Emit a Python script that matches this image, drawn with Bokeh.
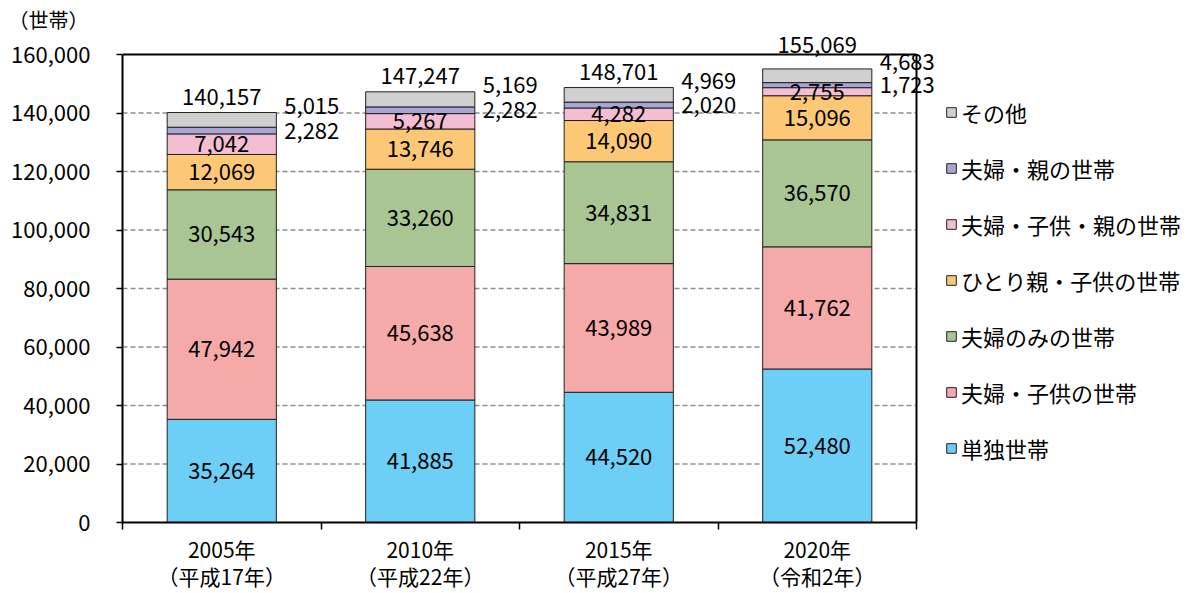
from bokeh.plotting import figure
from bokeh.models import (Range1d, FixedTicker, NumeralTickFormatter, Legend,
                          LegendItem, ColumnDataSource)
from bokeh.core.properties import value
from bokeh.embed import file_html
from bokeh.resources import INLINE

FONT = "Noto Sans CJK JP"

years = ["2005年", "2010年", "2015年", "2020年"]
eras = ["（平成17年）", "（平成22年）", "（平成27年）", "（令和2年）"]
series = ["単独世帯", "夫婦・子供の世帯", "夫婦のみの世帯", "ひとり親・子供の世帯",
          "夫婦・子供・親の世帯", "夫婦・親の世帯", "その他"]
tandoku = [35264, 41885, 44520, 52480]
fufu_kodomo = [47942, 45638, 43989, 41762]
fufu_nomi = [30543, 33260, 34831, 36570]
hitorioya = [12069, 13746, 14090, 15096]
fufu_kodomo_oya = [7042, 5267, 4282, 2755]
fufu_oya = [2282, 2282, 2020, 1723]
sonota = [5015, 5169, 4969, 4683]
totals = [140157, 147247, 148701, 155069]
y_ticks = [0, 20000, 40000, 60000, 80000, 100000, 120000, 140000, 160000]
colors = ["#6dcff6", "#f5a9a9", "#a9c593", "#fcc875", "#f3bdd3", "#a9a6d5", "#d0d0d0"]

values = [tandoku, fufu_kodomo, fufu_nomi, hitorioya, fufu_kodomo_oya, fufu_oya, sonota]
n = len(years)
xs = [i + 0.5 for i in range(n)]
BAR_W = 0.55
NUM_SIZE = "22px"

# layout (pixels)
W, H = 1203, 593
LEFT, TOP, BOTTOM = 122, 34, 71
PLOT_W = 794          # width of the boxed plot area
PLOT_H = 468          # height of 0..ymax
ymax = y_ticks[-1]
x_end = n * (W - LEFT) / PLOT_W
y_end = ymax * (H - BOTTOM - TOP) / PLOT_H
per_px = ymax / PLOT_H

data = {"x": xs}
keys = []
for k, v in enumerate(values):
    data[f"s{k}"] = v
    keys.append(f"s{k}")
src = ColumnDataSource(data)

p = figure(width=W, height=H, output_backend="svg", toolbar_location=None,
           x_range=Range1d(0, x_end), y_range=Range1d(0, y_end),
           min_border_left=LEFT, min_border_top=TOP, min_border_right=0,
           min_border_bottom=BOTTOM)
p.background_fill_color = "white"
p.border_fill_color = "white"
p.outline_line_color = None

# unit title
p.title.text = "（世帯）"
p.title.align = "left"
p.title.offset = -(LEFT - 8)
p.title.standoff = 2
p.title.text_font = FONT
p.title.text_font_size = "20px"
p.title.text_font_style = "normal"
p.title.text_color = "black"

# grid lines (dashed) within the boxed area
p.segment(x0=[0] * (len(y_ticks) - 2), x1=[n] * (len(y_ticks) - 2),
          y0=y_ticks[1:-1], y1=y_ticks[1:-1], line_color="#8c8c8c",
          line_dash="5 3", line_width=1.3)

rs = p.vbar_stack(keys, x="x", width=BAR_W, color=colors, line_color="#222222",
                  line_width=1, source=src)

# box top and right edges
p.segment(x0=[0, n], y0=[ymax, 0], x1=[n, n], y1=[ymax, ymax],
          line_color="black", line_width=2)

# segment labels
for k, v in enumerate(values):
    bx, by, bt = [], [], []
    for i in range(n):
        bottom = sum(values[j][i] for j in range(k))
        bx.append(xs[i])
        by.append(bottom + v[i] / 2)
        bt.append(f"{v[i]:,}")
    if k < 5:
        p.text(x=bx, y=by, text=bt, text_align="center", text_baseline="middle",
               text_font=value(FONT), text_font_size=NUM_SIZE, text_color="black")
    else:
        p.text(x=[xx + BAR_W / 2 for xx in bx], y=by, text=bt, text_align="left",
               text_baseline="middle", x_offset=8, y_offset=(-14 if k == 6 else 0),
               text_font=value(FONT), text_font_size=NUM_SIZE, text_color="black")

# totals: lifted above the box edge when they would cross it
tot_y, tot_off = [], []
for t in totals:
    if t + 30 * per_px > ymax:
        tot_y.append(ymax)
        tot_off.append(-2)
    else:
        tot_y.append(t)
        tot_off.append(-8)
p.text(x=xs, y=tot_y, text=[f"{t:,}" for t in totals], text_align="center",
       text_baseline="bottom", y_offset=tot_off, text_font=value(FONT),
       text_font_size=NUM_SIZE, text_color="black")

# axes
p.yaxis.bounds = (0, ymax)
p.yaxis.ticker = FixedTicker(ticks=y_ticks)
p.yaxis.formatter = NumeralTickFormatter(format="0,0")
p.yaxis.major_tick_out = 6
p.yaxis.major_tick_in = 0
p.yaxis.minor_tick_out = 0
p.yaxis.minor_tick_in = 0
p.yaxis.axis_line_width = 2
p.yaxis.axis_line_color = "black"
p.yaxis.major_tick_line_color = "black"
p.yaxis.major_tick_line_width = 1.5
p.yaxis.major_label_standoff = 26
p.yaxis.major_label_text_font = FONT
p.yaxis.major_label_text_font_size = NUM_SIZE
p.yaxis.major_label_text_color = "black"

p.xaxis.bounds = (0, n)
p.xaxis.ticker = FixedTicker(ticks=xs, minor_ticks=list(range(n + 1)))
p.xaxis.major_label_overrides = {xs[i]: f"{years[i]}\n{eras[i]}" for i in range(n)}
p.xaxis.major_tick_out = 0
p.xaxis.major_tick_in = 0
p.xaxis.minor_tick_out = 7
p.xaxis.minor_tick_in = 0
p.xaxis.minor_tick_line_color = "black"
p.xaxis.minor_tick_line_width = 1.5
p.xaxis.axis_line_width = 2
p.xaxis.axis_line_color = "black"
p.xaxis.major_label_standoff = 4
p.xaxis.major_label_text_font = FONT
p.xaxis.major_label_text_font_size = "21px"
p.xaxis.major_label_text_color = "black"
p.xaxis.major_label_text_line_height = 0.9

p.xgrid.visible = False
p.ygrid.visible = False

legend = Legend(items=[LegendItem(label=series[k], renderers=[rs[k]])
                       for k in reversed(range(len(series)))],
                location=(823, 58), margin=0, padding=0,
                glyph_width=12, glyph_height=12, spacing=24, label_height=20,
                label_standoff=4, border_line_color=None,
                label_text_font=FONT, label_text_font_size="22px",
                label_text_color="black", background_fill_alpha=0)
p.add_layout(legend)

open("out.html", "w").write(file_html(p, INLINE))
